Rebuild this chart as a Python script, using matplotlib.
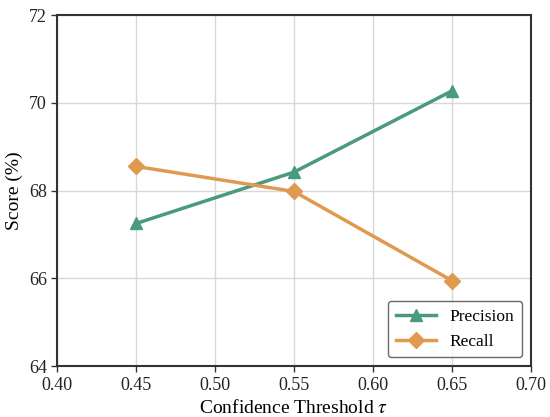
import matplotlib.pyplot as plt
import numpy as np

plt.rcParams['font.family'] = ['Liberation Serif', 'DejaVu Serif']
plt.rcParams['mathtext.fontset'] = 'stix'

thresholds = [0.45, 0.55, 0.65]
precision = [67.25, 68.42, 70.27]
recall = [68.55, 67.98, 65.95]

fig, ax = plt.subplots(figsize=(5.5, 4.17), dpi=100)

ax.plot(thresholds, precision, color='#4a9a7c', lw=2.5, marker='^',
        markersize=9, label='Precision')
ax.plot(thresholds, recall, color='#e09a50', lw=2.5, marker='D',
        markersize=8, label='Recall')

ax.set_xlim(0.40, 0.70)
ax.set_ylim(64, 72)
ax.set_xticks(np.arange(0.40, 0.701, 0.05))
ax.set_yticks([64, 66, 68, 70, 72])
ax.xaxis.set_major_formatter(plt.FormatStrFormatter('%.2f'))
ax.grid(True, color='#d8d8d8', lw=1)
ax.set_axisbelow(True)

for s in ax.spines.values():
    s.set_color('#333333')
    s.set_linewidth(1.5)
ax.tick_params(labelsize=13, colors='#333333', length=4, width=1, labelcolor='#222222')

ax.set_xlabel(r'Confidence Threshold $\tau$', fontsize=14)
ax.set_ylabel('Score (%)', fontsize=14)

leg = ax.legend(loc='lower right', fontsize=12.5, frameon=True, fancybox=True,
                edgecolor='#444444', handlelength=2.3, borderpad=0.45)
leg.get_frame().set_linewidth(1.0)

fig.subplots_adjust(left=0.104, right=0.965, top=0.964, bottom=0.122)
fig.savefig('out.png', dpi=100)
